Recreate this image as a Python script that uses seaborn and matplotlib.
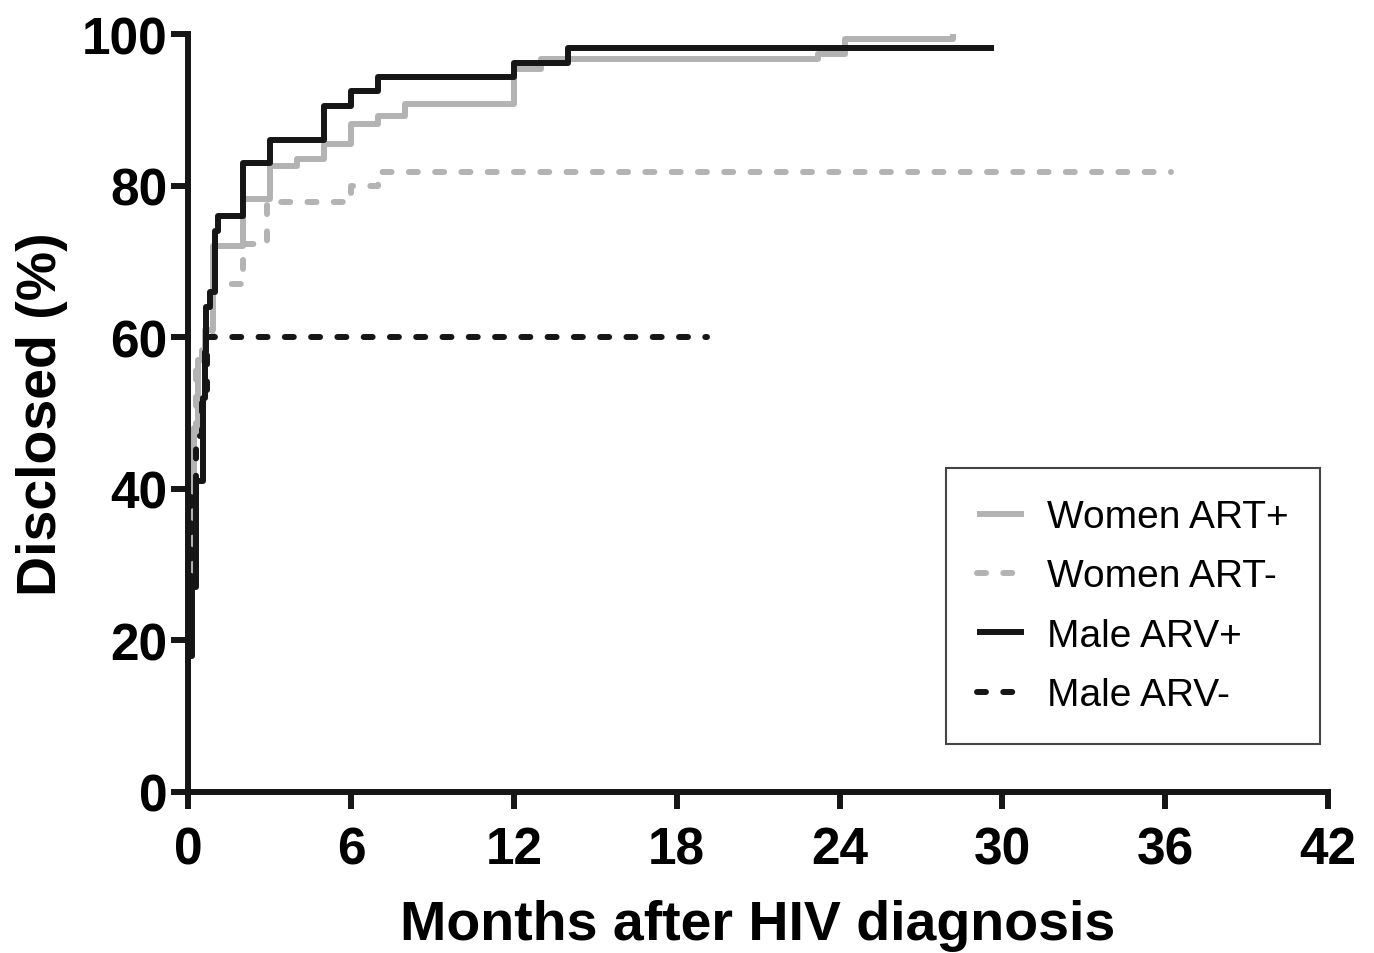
import numpy as np
import pandas as pd
import matplotlib
matplotlib.use("Agg")
import matplotlib.pyplot as plt
import seaborn as sns

# Kaplan-Meier style step curves: months after diagnosis vs % disclosed
women_pos_t = [0, 0.0, 0.1, 0.2, 0.35, 0.6, 0.9, 2.0, 3.0, 4.0, 5.0, 6.0, 7.0, 8.0, 12.0, 13.0, 23.2, 24.2, 28.2, 28.3]
women_pos_v = [0, 20, 35, 48, 57, 61, 72, 78.2, 82.6, 83.5, 85.5, 88.1, 89.2, 90.8, 95.4, 96.7, 97.4, 99.3, 100, 100]

women_neg_t = [0, 0.0, 0.05, 0.15, 0.3, 0.5, 0.9, 2.0, 2.9, 6.0, 7.0, 36.2]
women_neg_v = [0, 18, 30, 45, 57, 60, 67, 72.3, 77.8, 80, 81.8, 81.8]

male_pos_t = [0, 0.0, 0.15, 0.3, 0.55, 0.6, 0.65, 0.8, 1.0, 1.1, 2.0, 3.0, 5.0, 6.0, 7.0, 12.0, 14.0, 29.7]
male_pos_v = [0, 18, 27, 41, 52, 58, 64, 66, 74, 76, 83, 86, 90.5, 92.5, 94.3, 96.2, 98.1, 98.1]

male_neg_t = [0, 0.0, 0.1, 0.3, 0.5, 0.7, 19.1]
male_neg_v = [0, 20, 40, 47, 53, 60, 60]

series = [
    ("Women ART+", women_pos_t, women_pos_v, "#b3b3b3", "-"),
    ("Women ART-", women_neg_t, women_neg_v, "#b3b3b3", (0, (1.5, 2.9))),
    ("Male ARV+", male_pos_t, male_pos_v, "#161616", "-"),
    ("Male ARV-", male_neg_t, male_neg_v, "#161616", (0, (1.5, 2.9))),
]

sns.set_style("ticks")
plt.rcParams["font.family"] = ["Liberation Sans", "DejaVu Sans"]
plt.rcParams["text.color"] = "black"
plt.rcParams["axes.labelcolor"] = "black"
plt.rcParams["xtick.color"] = "black"
plt.rcParams["ytick.color"] = "black"

fig = plt.figure(figsize=(13.74, 9.54), dpi=100)
ax = fig.add_axes([0.137, 0.1688, 0.8295, 0.7945])

lw = 4.3
for label, t, v, color, ls in series:
    # keep the order as given (two points at t=0 make the initial jump)
    df = pd.DataFrame({"t": t, "v": v})
    sns.lineplot(data=df, x="t", y="v", ax=ax, color=color, linestyle=ls,
                 linewidth=lw, drawstyle="steps-post", sort=False,
                 estimator=None, label=label, dash_capstyle="round",
                 solid_capstyle="butt")

ax.set_xlim(0, 42)
ax.set_ylim(0, 100)
ax.set_xticks(np.arange(0, 43, 6))
ax.set_yticks(np.arange(0, 101, 20))
ax.spines[["top", "right"]].set_visible(False)
for s in ["left", "bottom"]:
    ax.spines[s].set_linewidth(lw)
    ax.spines[s].set_color("#161616")
ax.tick_params(axis="both", width=lw, length=12, color="#161616",
               labelsize=37, labelcolor="black")
ax.tick_params(axis="x", pad=12)
ax.tick_params(axis="y", pad=3)
for lab in ax.get_xticklabels() + ax.get_yticklabels():
    lab.set_fontweight("bold")

ax.set_xlabel("Months after HIV diagnosis", fontsize=40, fontweight="bold", labelpad=18)
ax.set_ylabel("Disclosed (%)", fontsize=40, fontweight="bold", labelpad=10)

leg = ax.legend(loc="upper left", bbox_to_anchor=(0.665, 0.4274), fontsize=28,
                frameon=True, fancybox=False, edgecolor="#161616",
                handlelength=1.2, handletextpad=0.6, labelspacing=0.6,
                borderpad=0.8, borderaxespad=0)
leg.get_frame().set_linewidth(1.5)
for txt in leg.get_texts():
    txt.set_color("black")

fig.savefig("out.png", dpi=100)
